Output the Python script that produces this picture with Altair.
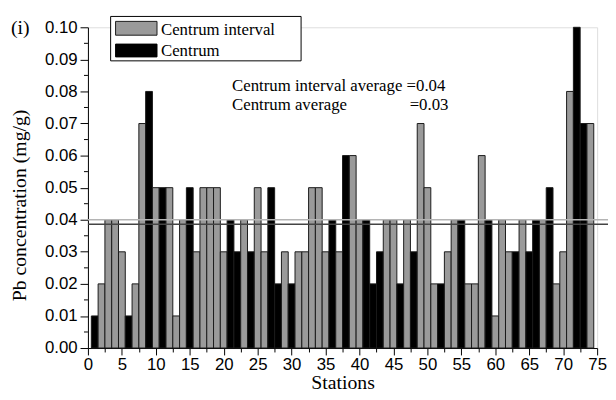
import altair as alt
import pandas as pd

# ---- data ----
stations = list(range(1, 75))
values = [0.01, 0.02, 0.04, 0.04, 0.03, 0.01, 0.02, 0.07, 0.08, 0.05,
          0.05, 0.05, 0.01, 0.04, 0.05, 0.03, 0.05, 0.05, 0.05, 0.03,
          0.04, 0.03, 0.04, 0.03, 0.05, 0.03, 0.05, 0.02, 0.03, 0.02,
          0.03, 0.03, 0.05, 0.05, 0.03, 0.04, 0.03, 0.06, 0.06, 0.04,
          0.04, 0.02, 0.03, 0.04, 0.04, 0.02, 0.04, 0.03, 0.07, 0.05,
          0.02, 0.02, 0.03, 0.04, 0.04, 0.02, 0.02, 0.06, 0.04, 0.01,
          0.04, 0.03, 0.03, 0.04, 0.03, 0.04, 0.04, 0.05, 0.02, 0.03,
          0.08, 0.10, 0.07, 0.07]
# I = Centrum interval, C = Centrum
codes = ["C", "I", "I", "I", "I", "C", "I", "I", "C", "I",
         "C", "I", "I", "I", "C", "I", "I", "I", "I", "I",
         "C", "C", "I", "C", "I", "I", "C", "C", "I", "C",
         "I", "I", "I", "I", "I", "C", "I", "C", "I", "I",
         "C", "C", "C", "I", "I", "C", "I", "C", "I", "I",
         "I", "C", "I", "I", "C", "I", "I", "I", "C", "I",
         "I", "I", "C", "I", "C", "C", "I", "C", "I", "I",
         "I", "C", "C", "I"]
series_names = {"I": "Centrum interval", "C": "Centrum"}
avg_interval = 0.040
avg_centrum = 0.0386
x_ticks = [0, 2.5, 5, 7.5, 10, 12.5, 15, 17.5, 20, 22.5, 25, 27.5, 30, 32.5,
           35, 37.5, 40, 42.5, 45, 47.5, 50, 52.5, 55, 57.5, 60, 62.5, 65,
           67.5, 70, 72.5, 75]
y_major = [0.0, 0.01, 0.02, 0.03, 0.04, 0.05, 0.06, 0.07, 0.08, 0.09, 0.1]
y_minor = [0.005, 0.015, 0.025, 0.035, 0.045, 0.055, 0.065, 0.075, 0.085, 0.095]
note_line1 = "Centrum interval average =0.04"
note_line2a = "Centrum average"
note_line2b = "=0.03"
panel_label = "(i)"

df = pd.DataFrame({
    "station": stations,
    "value": values,
    "group": [series_names[c] for c in codes],
})

W, H = 516, 325
SERIF = "Liberation Serif"
SANS = "Liberation Sans"
GRAY = "#9a9a9a"

xscale = alt.Scale(domain=[0, 75], nice=False, zero=False)
yscale = alt.Scale(domain=[0, 0.1], nice=False)

xaxis = alt.Axis(
    values=x_ticks,
    labelExpr="datum.value % 5 == 0 ? datum.label : ''",
    tickSize={"condition": {"test": "datum.value % 5 != 0", "value": 4}, "value": 7},
    labelFont=SANS, labelFontSize=17, labelColor="black", labelPadding=2,
    labelFlush=False, labelOverlap=False,
    title="Stations", titleFont=SERIF, titleFontSize=20, titleFontWeight="normal",
    titleColor="black", titleY=41, titleBaseline="alphabetic",
    domainColor="black", tickColor="black", grid=False,
)
yaxis = alt.Axis(
    values=y_major, format=".2f",
    tickSize=8,
    labelFont=SANS, labelFontSize=17, labelColor="black", labelPadding=3,
    labelOverlap=False, labelFlush=False,
    title="Pb concentration (mg/g)", titleFont=SERIF, titleFontSize=20,
    titleFontWeight="normal", titleColor="black",
    titleX=-63, titleY=180, titleAngle=270, titleBaseline="alphabetic",
    domainColor="black", tickColor="black", grid=False,
)

bars = alt.Chart(df).transform_calculate(
    x0="datum.station - 0.5", x1="datum.station + 0.5"
).mark_bar(stroke="#1a1a1a", strokeWidth=1).encode(
    x=alt.X("x0:Q", scale=xscale, axis=xaxis),
    x2="x1:Q",
    y=alt.Y("value:Q", scale=yscale, axis=yaxis),
    y2=alt.datum(0),
    color=alt.Color("group:N",
                    scale=alt.Scale(domain=["Centrum interval", "Centrum"],
                                    range=[GRAY, "#000000"]),
                    legend=None),
)

minor_y = alt.Chart(pd.DataFrame({"value": y_minor})).mark_rule(
    color="black", strokeWidth=1
).encode(y=alt.Y("value:Q", scale=yscale, axis=yaxis), x=alt.value(-4), x2=alt.value(0))

line_int = alt.Chart(pd.DataFrame({"value": [avg_interval]})).mark_rule(
    color="#b4b4b4", strokeWidth=1.6
).encode(y=alt.Y("value:Q", scale=yscale, axis=yaxis), x=alt.value(0), x2=alt.value(W + 11))

line_cen = alt.Chart(pd.DataFrame({"value": [avg_centrum]})).mark_rule(
    color="#444444", strokeWidth=1.6
).encode(y=alt.Y("value:Q", scale=yscale, axis=yaxis), x=alt.value(0), x2=alt.value(W + 11))

# legend box (manual)
one = pd.DataFrame({"k": [0]})
legend_box = alt.Chart(one).mark_rect(
    fill="white", stroke="black", strokeWidth=1
).encode(x=alt.value(23), x2=alt.value(216), y=alt.value(-11), y2=alt.value(34))
sw1 = alt.Chart(one).mark_rect(fill=GRAY, stroke="#1a1a1a", strokeWidth=1).encode(
    x=alt.value(28), x2=alt.value(70), y=alt.value(-6), y2=alt.value(8))
sw2 = alt.Chart(one).mark_rect(fill="black", stroke="black", strokeWidth=1).encode(
    x=alt.value(28), x2=alt.value(70), y=alt.value(17), y2=alt.value(30))
lab1 = alt.Chart(pd.DataFrame({"t": [series_names["I"]]})).mark_text(
    align="left", baseline="alphabetic", font=SERIF, fontSize=17, color="black"
).encode(x=alt.value(74), y=alt.value(8), text="t:N")
lab2 = alt.Chart(pd.DataFrame({"t": [series_names["C"]]})).mark_text(
    align="left", baseline="alphabetic", font=SERIF, fontSize=17, color="black"
).encode(x=alt.value(74), y=alt.value(29), text="t:N")

note1 = alt.Chart(pd.DataFrame({"t": [note_line1]})).mark_text(
    align="left", baseline="alphabetic", font=SERIF, fontSize=17, color="black"
).encode(x=alt.value(146), y=alt.value(65), text="t:N")
note2a = alt.Chart(pd.DataFrame({"t": [note_line2a]})).mark_text(
    align="left", baseline="alphabetic", font=SERIF, fontSize=17, color="black"
).encode(x=alt.value(146), y=alt.value(84), text="t:N")
note2b = alt.Chart(pd.DataFrame({"t": [note_line2b]})).mark_text(
    align="left", baseline="alphabetic", font=SERIF, fontSize=17, color="black"
).encode(x=alt.value(326), y=alt.value(84), text="t:N")
panel = alt.Chart(pd.DataFrame({"t": [panel_label]})).mark_text(
    align="left", baseline="alphabetic", font=SERIF, fontSize=20, color="black"
).encode(x=alt.value(-78), y=alt.value(7), text="t:N")

chart = alt.layer(
    bars, minor_y, line_int, line_cen, legend_box, sw1, sw2, lab1, lab2,
    note1, note2a, note2b, panel
).properties(
    width=W, height=H,
    autosize=alt.AutoSizeParams(type="none"),
    padding={"left": 81, "top": 17, "right": 11, "bottom": 42},
).configure_view(stroke=None).configure(background="white")

chart.save("out.html", embed_options={"renderer": "svg", "actions": False})
